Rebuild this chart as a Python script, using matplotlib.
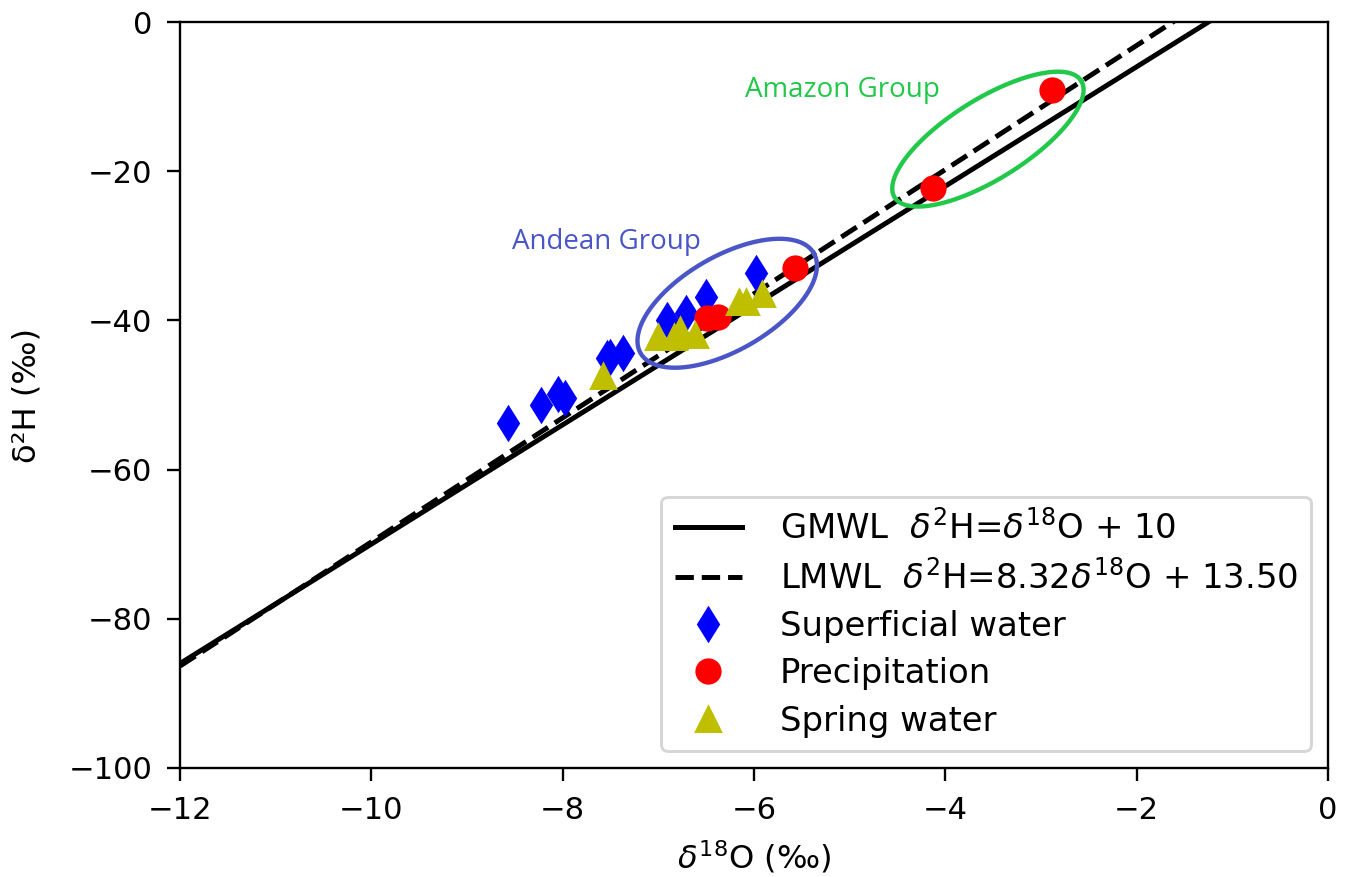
import numpy as np
import matplotlib
matplotlib.use('Agg')
import matplotlib.pyplot as plt

# superficial water (blue diamonds)
sup_o = [-8.57, -8.23, -8.05, -7.98, -7.54, -7.51, -7.37, -6.91, -6.71, -6.50, -5.98]
sup_h = [-53.8, -51.3, -49.8, -50.4, -45.1, -44.9, -44.4, -39.9, -39.0, -36.8, -33.7]

# precipitation (red circles)
pre_o = [-5.57, -6.49, -6.38, -2.88, -4.13]
pre_h = [-33.0, -39.7, -39.6, -9.1, -22.3]

# spring water (olive triangles)
spr_o = [-7.58, -7.00, -6.84, -6.77, -6.62, -6.16, -6.08, -5.92]
spr_h = [-47.5, -42.2, -42.2, -41.3, -42.0, -37.5, -37.5, -36.4]

# meteoric water lines
gmwl = (8.0, 10.0)
lmwl = (8.32, 13.50)

fig = plt.figure(figsize=(1351 / 210, 877 / 210), dpi=210)
ax = fig.add_axes([0.1332, 0.1243, 0.983 - 0.1332, 0.9749 - 0.1243])

x = np.linspace(-12, 0, 200)
ax.plot(x, gmwl[0] * x + gmwl[1], 'k-', lw=1.7,
        label=r'GMWL  $\delta^2$H=$\delta^{18}$O + 10')
ax.plot(x, lmwl[0] * x + lmwl[1], 'k--', lw=1.7,
        label=r'LMWL  $\delta^2$H=8.32$\delta^{18}$O + 13.50')
ax.plot(sup_o, sup_h, 'bd', ms=8, label='Superficial water')
ax.plot(pre_o, pre_h, 'ro', ms=8, label='Precipitation')
ax.plot(spr_o, spr_h, 'y^', ms=8, label='Spring water')

ax.set_xlim(-12, 0)
ax.set_ylim(-100, 0)
ax.tick_params(labelsize=10.5, length=4.5, pad=5)
ax.set_xlabel(r'$\delta^{18}$O (‰)', fontsize=11, labelpad=5)
ax.set_ylabel('δ²H (‰)', fontsize=11, labelpad=9)
ax.legend(loc='lower right', fontsize=11.6, handletextpad=1.1, labelspacing=0.42)


def draw_ellipse(cx, cy, a, b, ang, color):
    # a, b in pixels so the ellipse looks the same as drawn on screen
    t = np.linspace(0, 2 * np.pi, 300)
    th = np.deg2rad(ang)
    dx = a * np.cos(t) * np.cos(th) - b * np.sin(t) * np.sin(th)
    dy = a * np.cos(t) * np.sin(th) + b * np.sin(t) * np.cos(th)
    c = ax.transData.transform((cx, cy))
    pts = ax.transData.inverted().transform(np.column_stack([c[0] + dx, c[1] + dy]))
    ax.plot(pts[:, 0], pts[:, 1], color=color, lw=1.5)


draw_ellipse(-6.28, -37.7, 100, 47, 30, '#4a55c8')
draw_ellipse(-3.555, -15.7, 110, 40, 32, '#22c84a')
ax.text(-8.53, -29.5, 'Andean Group', color='#4a55c8', fontsize=9.5,
        family='Open Sans', va='center')
ax.text(-6.09, -9.1, 'Amazon Group', color='#22c84a', fontsize=9.5,
        family='Open Sans', va='center')

fig.savefig('out.png', dpi=210)
